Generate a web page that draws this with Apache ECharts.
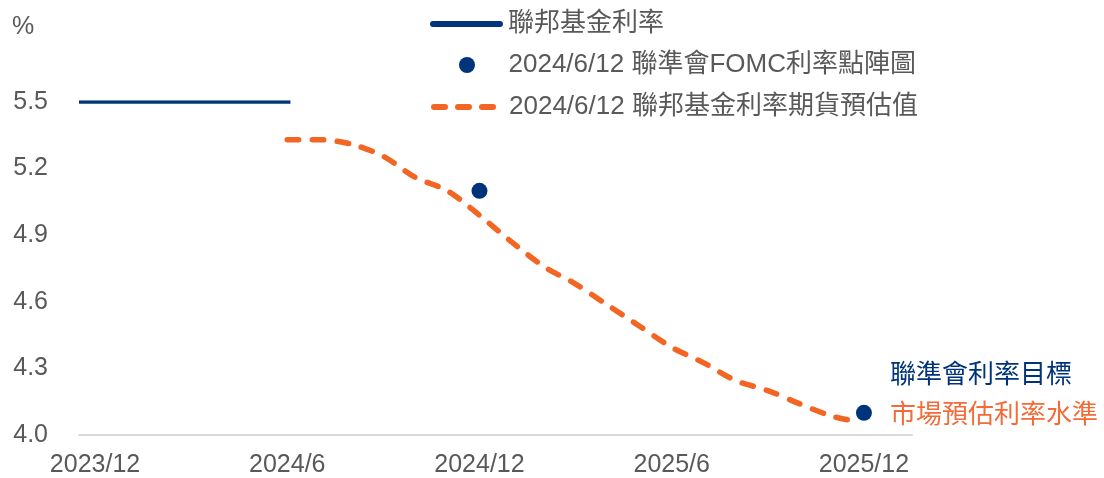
<!DOCTYPE html>
<html>
<head>
<meta charset="utf-8">
<script src="https://cdn.jsdelivr.net/npm/echarts@6/dist/echarts.min.js"></script>
<style>
  html, body { margin: 0; padding: 0; background: #fff; }
  #chart { width: 1104px; height: 478px; }
</style>
</head>
<body>
<div id="chart"></div>
<script>
// Months counted from 2023/12 (0 = 2023/12)
const xTickMonths = [0, 6, 12, 18, 24];
const xTickLabels = ['2023/12', '2024/6', '2024/12', '2025/6', '2025/12'];
const yTicks = [4.0, 4.3, 4.6, 4.9, 5.2, 5.5];

const seriesNames = ['聯邦基金利率', '2024/6/12 聯準會FOMC利率點陣圖', '2024/6/12 聯邦基金利率期貨預估值'];

// Fed funds rate (actual)
const fedMonths = [-0.5, 6.1];
const fedValues = [5.5, 5.5];

// FOMC dot plot medians
const dotMonths = [12, 24];
const dotValues = [5.1, 4.1];

// Fed funds futures implied path
const futMonths = [6, 7, 8, 9, 10, 11, 12, 13, 14, 15, 16, 17, 18, 19, 20, 21, 22, 23, 23.8];
const futValues = [5.33, 5.33, 5.31, 5.255, 5.16, 5.10, 4.99, 4.87, 4.76, 4.68, 4.585, 4.49, 4.395, 4.325, 4.245, 4.20, 4.14, 4.085, 4.06];

const annotations = ['聯準會利率目標', '市場預估利率水準'];

const NAVY = '#00347A';
const ORANGE = '#F26522';
const ORANGE_TEXT = '#F26B38';
const GREY = '#595959';
const FONT = '"Liberation Sans", Arial, "Noto Sans CJK TC", sans-serif';

const zip = (xs, ys) => xs.map((x, i) => [x, ys[i]]);

const dotData = zip(dotMonths, dotValues).map((p, i) => {
  if (i !== dotMonths.length - 1) return p;
  return {
    value: p,
    label: {
      show: true,
      position: 'right',
      distance: 18,
      offset: [0, -17],
      formatter: '{a|' + annotations[0] + '}\n{b|' + annotations[1] + '}',
      rich: {
        a: { color: NAVY, fontSize: 26, lineHeight: 40, fontFamily: FONT },
        b: { color: ORANGE_TEXT, fontSize: 26, lineHeight: 40, fontFamily: FONT }
      }
    }
  };
});

const chart = echarts.init(document.getElementById('chart'), null, { renderer: 'canvas' });

const legendBase = {
  orient: 'vertical',
  padding: 0,
  itemWidth: 73,
  itemGap: 0,
  textStyle: { color: GREY, fontSize: 26, fontFamily: FONT, lineHeight: 26 },
  selectedMode: false
};

const dashIcon = 'path://M3,0h11a3,3 0 0 1 0,6h-11a3,3 0 0 1 0,-6z' +
  'M27,0h11a3,3 0 0 1 0,6h-11a3,3 0 0 1 0,-6z' +
  'M51,0h11a3,3 0 0 1 0,6h-11a3,3 0 0 1 0,-6z';
const barIcon = 'path://M3,0h67a3,3 0 0 1 0,6h-67a3,3 0 0 1 0,-6z';

chart.setOption({
  animation: false,
  backgroundColor: '#fff',
  grid: { left: 79, right: 192, top: 102, bottom: 43, containLabel: false },
  legend: [
    Object.assign({}, legendBase, {
      left: 430, top: 11, itemWidth: 73, itemHeight: 6,
      data: [{ name: seriesNames[0], icon: barIcon }],
      itemStyle: { color: NAVY }
    }),
    Object.assign({}, legendBase, {
      left: 459, top: 52, itemHeight: 16,
      data: [seriesNames[1]],
      itemStyle: { opacity: 1 }
    }),
    Object.assign({}, legendBase, {
      left: 431, top: 94, itemWidth: 65, itemHeight: 6,
      data: [{ name: seriesNames[2], icon: dashIcon }],
      itemStyle: { color: ORANGE },
      textStyle: Object.assign({}, legendBase.textStyle, { padding: [0, 0, 0, 8] })
    })
  ],
  graphic: [{
    type: 'text',
    left: 12,
    top: 15,
    style: { text: '%', fill: GREY, font: '25px ' + FONT }
  }],
  xAxis: {
    type: 'value',
    min: -0.5,
    max: 25.5,
    interval: 0.5,
    axisLine: { show: true, lineStyle: { color: '#D9D9D9', width: 2 } },
    axisTick: { show: false },
    splitLine: { show: false },
    axisLabel: {
      color: GREY,
      fontSize: 25,
      fontFamily: FONT,
      margin: 18,
      showMinLabel: true,
      showMaxLabel: true,
      formatter: v => {
        const i = xTickMonths.findIndex(m => Math.abs(m - v) < 1e-6);
        return i >= 0 ? xTickLabels[i] : '';
      }
    }
  },
  yAxis: {
    type: 'value',
    min: yTicks[0],
    max: yTicks[yTicks.length - 1],
    interval: 0.3,
    axisLine: { show: false },
    axisTick: { show: false },
    splitLine: { show: false },
    axisLabel: {
      color: GREY,
      fontSize: 25,
      fontFamily: FONT,
      margin: 31,
      formatter: v => v.toFixed(1)
    }
  },
  series: [
    {
      name: seriesNames[0],
      type: 'line',
      symbol: 'none',
      data: zip(fedMonths, fedValues),
      lineStyle: { color: NAVY, width: 3.5 },
      itemStyle: { color: NAVY },
      z: 2
    },
    {
      name: seriesNames[2],
      type: 'line',
      symbol: 'none',
      smooth: 0.3,
      data: zip(futMonths, futValues),
      lineStyle: { color: ORANGE, width: 5.5, type: [11.5, 13.5], cap: 'round' },
      itemStyle: { color: ORANGE },
      z: 2
    },
    {
      name: seriesNames[1],
      type: 'scatter',
      symbol: 'circle',
      symbolSize: 16,
      data: dotData,
      itemStyle: { color: NAVY, opacity: 1 },
      z: 3
    }
  ]
});
</script>
</body>
</html>
